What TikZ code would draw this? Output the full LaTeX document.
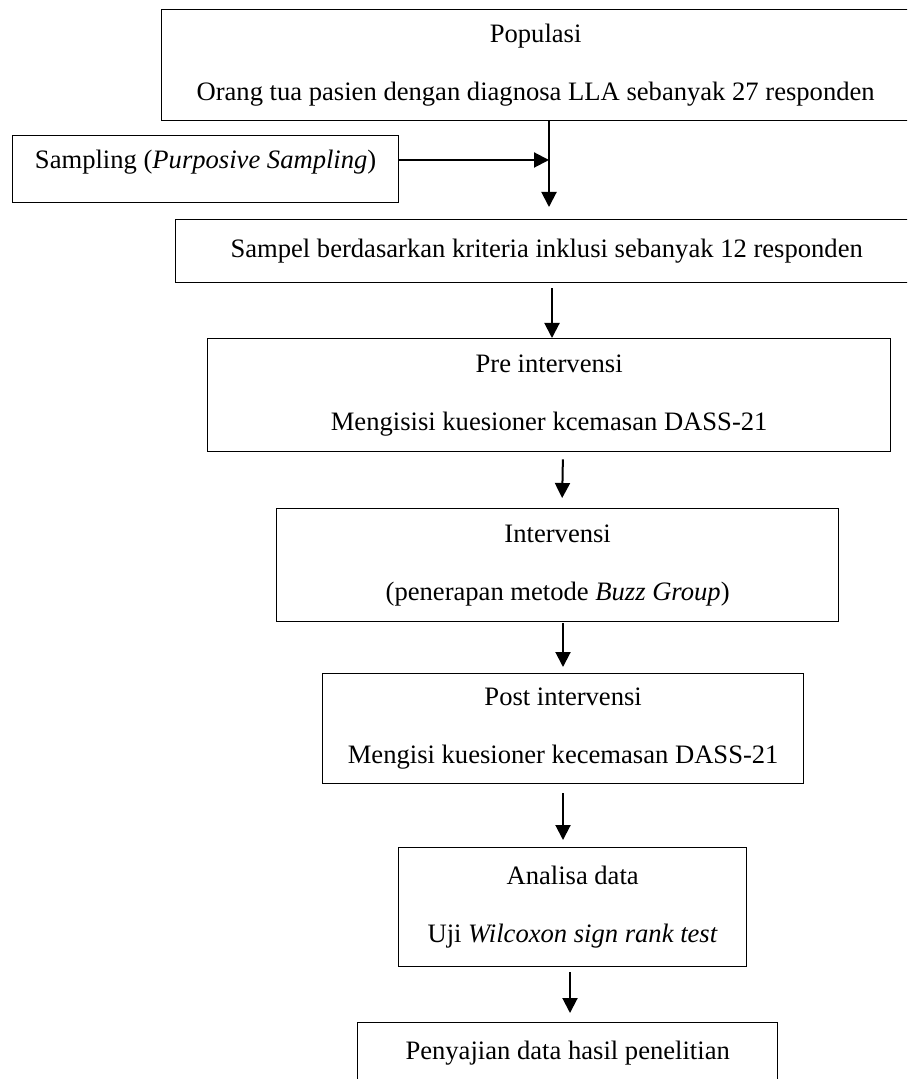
\documentclass[tikz,border=0pt]{standalone}
\usepackage{fontspec}
\setmainfont{Liberation Serif}
\usetikzlibrary{arrows.meta}
\begin{document}
\begin{tikzpicture}[x=0.5pt,y=-0.5pt,
  box/.style={draw, line width=0.65pt, inner sep=0pt, align=center, anchor=north west,
              font=\fontsize{13.3}{15.3}\selectfont},
  arr/.style={line width=1pt, -{Triangle[length=7.5pt,width=7.5pt]}}]
\useasboundingbox (0,0) rectangle (907,1079);
\clip (0,0) rectangle (907,1079);
% boxes
\node[box, minimum width=374pt, minimum height=55.5pt] (pop) at (161,9)
  {Populasi\\[13.7pt]Orang tua pasien dengan diagnosa LLA sebanyak 27 responden};
\node[box, minimum width=193pt, minimum height=33.5pt, text depth=10pt] (samp) at (12,135)
  {Sampling (\textit{Purposive Sampling})};
\node[box, minimum width=371pt, minimum height=31.5pt] (sampel) at (175,219)
  {Sampel berdasarkan kriteria inklusi sebanyak 12 responden};
\node[box, minimum width=341.5pt, minimum height=56.5pt] (pre) at (207,338)
  {Pre intervensi\\[13.7pt]Mengisisi kuesioner kcemasan DASS-21};
\node[box, minimum width=281pt, minimum height=56.5pt] (int) at (276,508)
  {Intervensi\\[13.7pt](penerapan metode \textit{Buzz Group})};
\node[box, minimum width=240.5pt, minimum height=55pt] (post) at (322,673)
  {Post intervensi\\[13.7pt]Mengisi kuesioner kecemasan DASS-21};
\node[box, minimum width=174pt, minimum height=59.5pt] (ana) at (398,847)
  {Analisa data\\[13.7pt]Uji \textit{Wilcoxon sign rank test}};
\node[box, minimum width=210pt, minimum height=30pt] (peny) at (357,1022)
  {Penyajian data hasil penelitian};
% arrow columns
\coordinate (c1) at (549,160);
\coordinate (c3) at (552,0);
\coordinate (c4a) at (563,0);
\coordinate (c4b) at (562,0);
\coordinate (c5) at (563,0);
\coordinate (c7) at (570,0);
% connectors
\draw[arr, shorten >=6pt] (pop.south -| c1) -- (sampel.north -| c1);
\draw[arr] (samp.east |- c1) -- (c1);
\draw[arr, shorten <=2.5pt] (sampel.south -| c3) -- (pre.north -| c3);
\draw[arr, shorten <=3.5pt, shorten >=5pt] (pre.south -| c4a) -- (int.north -| c4b);
\draw[arr, shorten <=0.5pt, shorten >=3pt] (int.south -| c5) -- (post.north -| c5);
\draw[arr, shorten <=4.5pt, shorten >=3.5pt] (post.south -| c5) -- (ana.north -| c5);
\draw[arr, shorten <=2.5pt, shorten >=4.5pt] (ana.south -| c7) -- (peny.north -| c7);
\end{tikzpicture}
\end{document}
